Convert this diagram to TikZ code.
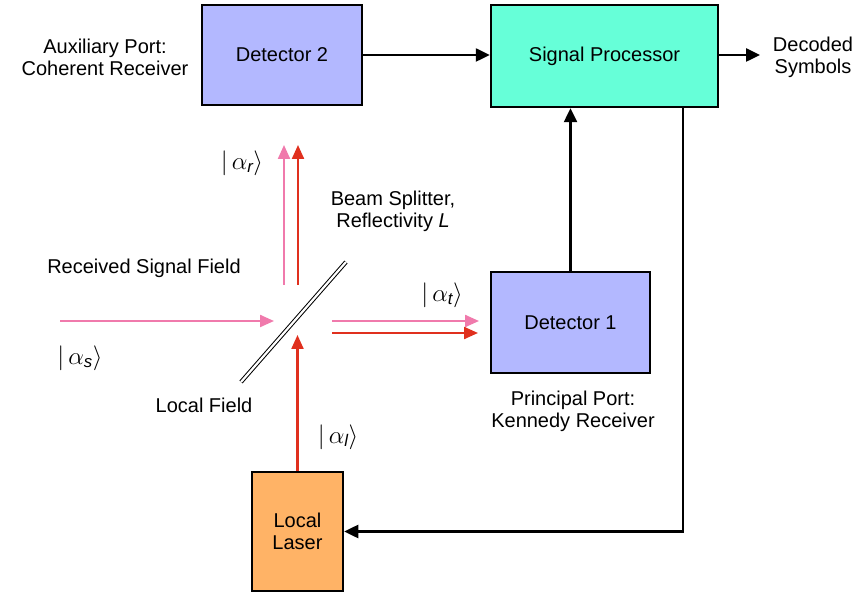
\documentclass[tikz,border=0pt]{standalone}
\usepackage{amsmath}
\usepackage{fontspec}
\setmainfont{Liberation Sans}
\usetikzlibrary{arrows.meta}
\definecolor{pinkray}{HTML}{F07AAC}
\definecolor{redray}{HTML}{E0301E}
\definecolor{detblue}{HTML}{B3B8FF}
\definecolor{spgreen}{HTML}{66FFD8}
\definecolor{laserorange}{HTML}{FFB366}
\tikzset{
  box/.style={draw=black, line width=2.5pt, inner sep=0pt, align=center, font=\fontsize{20}{22}\selectfont},
  lbl/.style={align=center, inner sep=0pt, font=\fontsize{20}{22}\selectfont},
  ketlbl/.style={inner sep=0pt, font=\fontsize{24}{24}\selectfont},
  blk/.style={line width=2.5pt, -{Triangle[length=14pt,width=13pt]}},
  pray/.style={draw=pinkray, line width=2.2pt, -{Triangle[length=14pt,width=12pt]}},
  rray/.style={draw=redray, line width=2.2pt, -{Triangle[length=14pt,width=12pt]}},
}
\newcommand{\ket}[1]{$|\,\alpha_{\text{\itshape #1}}\rangle$}
\begin{document}
\begin{tikzpicture}[x=1pt,y=1pt]
\useasboundingbox (0,0) rectangle (859,-593);
% boxes
\node[box, fill=detblue, minimum width=160pt, minimum height=100pt] (det2) at (282,-55) {Detector 2};
\node[box, fill=spgreen, minimum width=227pt, minimum height=102pt] (sp) at (604.5,-56) {Signal Processor};
\node[box, fill=detblue, minimum width=159pt, minimum height=101pt] (det1) at (570.5,-322.5) {Detector 1};
\node[box, fill=laserorange, minimum width=91pt, minimum height=119pt] (laser) at (297.5,-531.5) {Local\\Laser};
% labels
\node[lbl] (aux) at (105,-57) {Auxiliary Port:\\Coherent Receiver};
\node[lbl] (dec) at (813,-57) {Decoded\\Symbols};
\node[lbl] (bs) at (393,-211) {Beam Splitter,\\Reflectivity \textit{L}};
\node[lbl] (rsf) at (144,-268) {Received Signal Field};
\node[lbl] (lf) at (204,-405) {Local Field};
\node[lbl] (pp) at (573,-411) {Principal Port:\\Kennedy Receiver};
\node[ketlbl] (kr) at (242,-163) {\ket{r}};
\node[ketlbl] (ks) at (80,-358) {\ket{s}};
\node[ketlbl] (kl) at (338,-437) {\ket{l}};
\node[ketlbl] (kt) at (442,-295) {\ket{t}};
% coordinates
\coordinate (out) at (760,-55);
\coordinate (corner) at (683,-531.5);
\coordinate (bsA) at (241,-382);
\coordinate (bsB) at (346,-262);
\coordinate (sIn) at (60,-321);
\coordinate (sTip) at (274,-321);
\coordinate (lTip) at (297.5,-335);
\coordinate (upP0) at (284,-285);
\coordinate (upP1) at (284,-145);
\coordinate (upR0) at (298,-285);
\coordinate (upR1) at (298,-145);
\coordinate (rtP0) at (332,-321);
\coordinate (rtP1) at (479,-321);
\coordinate (rtR0) at (332,-333);
\coordinate (rtR1) at (478,-333);
% black connectors
\draw[blk] (det2.east |- 0,-55) -- (sp.west |- 0,-55);
\draw[blk] (sp.east |- out) -- (out);
\draw[blk] (det1.north) -- (det1.north |- sp.south);
\draw[blk] (sp.south -| corner) -- (corner) -- (laser.east);
% beam splitter
\draw[double=white, double distance=2.2pt, line width=1pt] (bsA) -- (bsB);
% rays
\draw[pray] (sIn) -- (sTip);
\draw[rray] (laser.north) -- (lTip);
\draw[pray] (upP0) -- (upP1);
\draw[rray] (upR0) -- (upR1);
\draw[pray] (rtP0) -- (rtP1);
\draw[rray] (rtR0) -- (rtR1);
\end{tikzpicture}
\end{document}
